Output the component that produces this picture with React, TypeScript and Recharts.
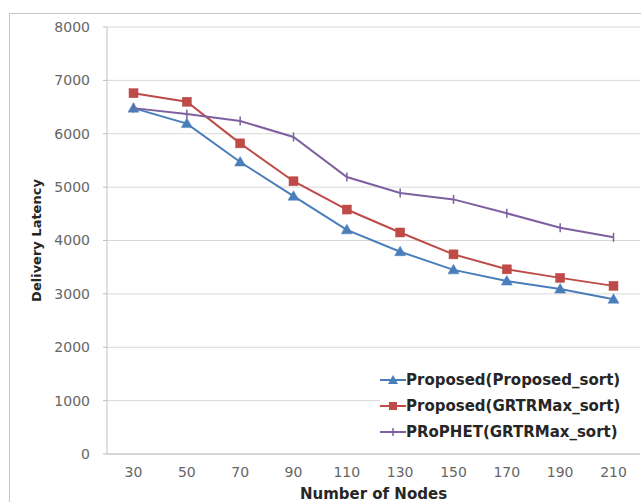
import React from "react";
import {
  LineChart,
  Line,
  XAxis,
  YAxis,
  CartesianGrid,
  Legend,
} from "recharts";

const nodes = [30, 50, 70, 90, 110, 130, 150, 170, 190, 210];
const proposedSort = [6480, 6190, 5470, 4830, 4200, 3790, 3450, 3240, 3090, 2900];
const grtrMaxSort = [6760, 6600, 5820, 5110, 4580, 4150, 3740, 3460, 3300, 3150];
const prophet = [6480, 6370, 6240, 5940, 5190, 4890, 4770, 4510, 4240, 4060];
const yTicks = [0, 1000, 2000, 3000, 4000, 5000, 6000, 7000, 8000];

const data = nodes.map((n, i) => ({
  nodes: n,
  proposed: proposedSort[i],
  grtr: grtrMaxSort[i],
  prophet: prophet[i],
}));

const BLUE = "#4a7ebb";
const RED = "#be4b48";
const PURPLE = "#7d60a0";
const FONT = "'DejaVu Sans', Verdana, sans-serif";

const legendOrder = ["proposed", "grtr", "prophet"];
const markerKind: Record<string, string> = { proposed: "tri", grtr: "sq", prophet: "dash" };

function Triangle(props: { cx?: number; cy?: number }) {
  const { cx, cy } = props;
  if (cx == null || cy == null) return null;
  return (
    <polygon
      points={`${cx},${cy - 5.5} ${cx + 5.5},${cy + 4} ${cx - 5.5},${cy + 4}`}
      fill={BLUE}
      stroke={BLUE}
      strokeWidth={0.5}
    />
  );
}

function Square(props: { cx?: number; cy?: number }) {
  const { cx, cy } = props;
  if (cx == null || cy == null) return null;
  return <rect x={cx - 4.5} y={cy - 4.5} width={9} height={9} fill={RED} stroke={RED} strokeWidth={0.5} />;
}

function Dash(props: { cx?: number; cy?: number }) {
  const { cx, cy } = props;
  if (cx == null || cy == null) return null;
  return <line x1={cx} y1={cy - 4.5} x2={cx} y2={cy + 4.5} stroke={PURPLE} strokeWidth={1.5} />;
}

function LegendIcon({ kind, color }: { kind: string; color: string }) {
  return (
    <svg width={26} height={12} style={{ display: "block" }}>
      <line x1={0} y1={6} x2={26} y2={6} stroke={color} strokeWidth={2} />
      {kind === "tri" && <polygon points="13,1 18,10 8,10" fill={color} />}
      {kind === "sq" && <rect x={9} y={2} width={8} height={8} fill={color} />}
      {kind === "dash" && <line x1={13} y1={2} x2={13} y2={10} stroke={color} strokeWidth={1.5} />}
    </svg>
  );
}

function LegendBox(props: any) {
  const payload = [...(props.payload || [])].sort(
    (a: any, b: any) => legendOrder.indexOf(a.dataKey) - legendOrder.indexOf(b.dataKey)
  );
  return (
    <div style={{ background: "#fff", padding: "2px 0" }}>
      {payload.map((p: any) => (
        <div key={p.value} style={{ display: "flex", alignItems: "center", height: 26 }}>
          <LegendIcon kind={markerKind[p.dataKey]} color={p.color} />
          <span
            style={{
              fontFamily: FONT,
              fontWeight: "bold",
              fontSize: 15,
              color: "#262626",
              whiteSpace: "nowrap",
            }}
          >
            {p.value}
          </span>
        </div>
      ))}
    </div>
  );
}

function YTitle(props: any) {
  const vb = props.viewBox || { x: 0, y: 27, width: 107, height: 427 };
  const x = vb.x + 41;
  const y = vb.y + vb.height / 2;
  return (
    <text
      x={x}
      y={y}
      transform={`rotate(-90, ${x}, ${y})`}
      textAnchor="middle"
      fontFamily={FONT}
      fontWeight="bold"
      fontSize={13}
      fill="#262626"
    >
      Delivery Latency
    </text>
  );
}

export default function App() {
  return (
    <div
      style={{
        position: "absolute",
        left: 0,
        top: 0,
        width: 641,
        height: 502,
        overflow: "hidden",
        background: "#fff",
      }}
    >
      <div
        style={{
          position: "absolute",
          left: 9,
          top: 13,
          width: 700,
          height: 600,
          border: "1.5px solid #c8c8c8",
        }}
      />
      <LineChart
        width={641}
        height={502}
        data={data}
        margin={{ top: 27, right: 1, left: 0, bottom: 18 }}
      >
        <CartesianGrid vertical={false} stroke="#d9d9d9" />
        <XAxis
          dataKey="nodes"
          height={30}
          padding={{ left: 26.5, right: 26.5 }}
          tickLine={false}
          tickSize={0}
          tickMargin={13}
          axisLine={{ stroke: "#bfbfbf" }}
          tick={{ fill: "#666", fontSize: 14, fontFamily: FONT }}
          label={{
            value: "Number of Nodes",
            position: "bottom",
            offset: 4,
            fill: "#262626",
            fontSize: 15,
            fontWeight: "bold",
            fontFamily: FONT,
          }}
        />
        <YAxis
          width={107}
          domain={[0, 8000]}
          ticks={yTicks}
          tickSize={4}
          tickMargin={13}
          tickLine={{ stroke: "#bfbfbf" }}
          axisLine={{ stroke: "#bfbfbf" }}
          tick={{ fill: "#666", fontSize: 14, fontFamily: FONT }}
          label={<YTitle />}
        />
        <Legend
          layout="vertical"
          align="center"
          verticalAlign="middle"
          content={<LegendBox />}
          wrapperStyle={{ left: 380, top: 365, width: 260, bottom: "auto", right: "auto" }}
        />
        <Line
          dataKey="proposed"
          name="Proposed(Proposed_sort)"
          stroke={BLUE}
          strokeWidth={2}
          dot={<Triangle />}
          isAnimationActive={false}
        />
        <Line
          dataKey="grtr"
          name="Proposed(GRTRMax_sort)"
          stroke={RED}
          strokeWidth={2}
          dot={<Square />}
          isAnimationActive={false}
        />
        <Line
          dataKey="prophet"
          name="PRoPHET(GRTRMax_sort)"
          stroke={PURPLE}
          strokeWidth={2}
          dot={<Dash />}
          isAnimationActive={false}
        />
      </LineChart>
    </div>
  );
}
